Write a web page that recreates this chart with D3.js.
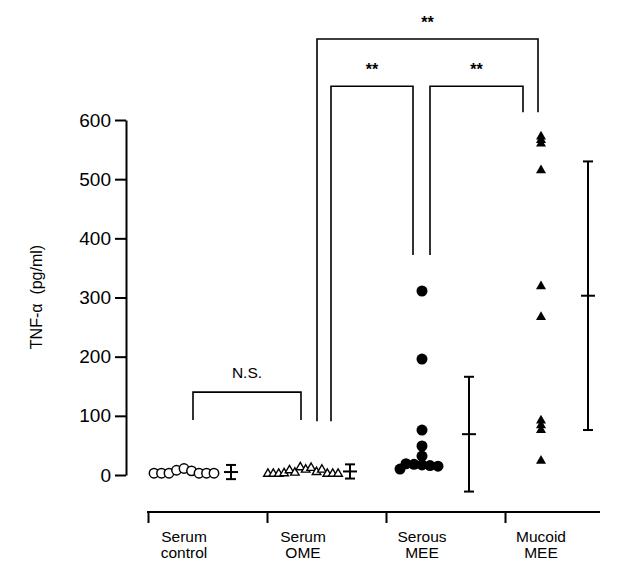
<!DOCTYPE html>
<html>
<head>
<meta charset="utf-8">
<script src="https://cdn.jsdelivr.net/npm/d3@7"></script>
<style>
  body { margin: 0; background: #fff; }
  svg { font-family: 'Liberation Sans', Arial, sans-serif; }
  .axis path, .axis line { stroke: #000; stroke-width: 2; }
  .axis text { fill: #000; }
  .bracket { fill: none; stroke: #000; stroke-width: 1.6; }
  .errbar { stroke: #000; stroke-width: 2; }
</style>
</head>
<body>
<svg class="chart" width="624" height="568"></svg>
<script>
const groups = ['Serum control', 'Serum OME', 'Serous MEE', 'Mucoid MEE'];
const groupLabels = [['Serum', 'control'], ['Serum', 'OME'], ['Serous', 'MEE'], ['Mucoid', 'MEE']];
const yTicks = [0, 100, 200, 300, 400, 500, 600];

// individual values, left to right as they appear
const controlValues = [3, 3, 3, 8, 11, 7, 3, 3, 3];
const omeValues = [2, 2, 2, 3, 8, 4, 13, 9, 12, 5, 9, 2, 2, 2];
const serousValues = [311, 196, 76, 49, 32, 17, 16, 18, 15, 19, 10];
const mucoidValues = [572, 566, 560, 515, 319, 267, 92, 84, 76, 24];

const groupMeans = [5, 6, 69, 303];
const groupSDs = [12, 12, 97, 227];

const comparisons = [
  { from: 0, to: 1, label: 'N.S.' },
  { from: 1, to: 2, label: '**' },
  { from: 2, to: 3, label: '**' },
  { from: 1, to: 3, label: '**' },
];

const svg = d3.select('.chart');
const yScale = d3.scaleLinear().domain([0, 600]).range([475, 120]);
const xScale = d3.scalePoint().domain(groups).range([148, 505]);
const dotOffset = 36;
const barOffset = 83;

const trianglePath = (side) => {
  const h = side * Math.sqrt(3) / 2;
  return `M0,${-h * 2 / 3}L${side / 2},${h / 3}L${-side / 2},${h / 3}Z`;
};

// simple beeswarm in array order
const swarm = (values, cx, minDist) => {
  const placed = [];
  values.forEach((v) => {
    const y = yScale(v);
    let x = cx;
    for (let k = 0; k < 400; k += 1) {
      const off = k === 0 ? 0 : (k % 2 ? 1 : -1) * Math.ceil(k / 2) * 0.5;
      if (placed.every(p => Math.hypot(p.x - (cx + off), p.y - y) >= minDist)) {
        x = cx + off;
        break;
      }
    }
    placed.push({ x, y, v });
  });
  return placed;
};

const row = (values, cx, step) => values.map((v, i) => ({
  x: cx + (i - (values.length - 1) / 2) * step,
  y: yScale(v),
  v,
}));

// y axis
const yAxis = d3.axisLeft(yScale).tickValues(yTicks).tickSize(11).tickSizeOuter(0).tickPadding(4);
svg.append('g')
  .attr('class', 'axis')
  .attr('transform', 'translate(126, 0)')
  .call(yAxis)
  .call(g => g.selectAll('text').attr('font-size', 19).attr('font-family', 'Liberation Sans, Arial, sans-serif'));

svg.append('text')
  .attr('transform', 'translate(42, 297) rotate(-90)')
  .attr('text-anchor', 'middle')
  .attr('font-size', 16)
  .style('white-space', 'pre')
  .text('TNF-α  (pg/ml)');

// bottom category axis
const xAxis = d3.axisBottom(xScale).tickSize(11).tickSizeOuter(0).tickFormat('');
const xg = svg.append('g')
  .attr('class', 'axis')
  .attr('transform', 'translate(0, 512)')
  .call(xAxis);
xg.select('.domain').remove();
xg.append('line')
  .attr('x1', xScale(groups[0]) - 1)
  .attr('x2', 600)
  .attr('stroke', '#000')
  .attr('stroke-width', 2);

groups.forEach((g, i) => {
  groupLabels[i].forEach((line, j) => {
    svg.append('text')
      .attr('text-anchor', 'middle')
      .attr('font-size', 15.5)
      .attr('x', xScale(g) + dotOffset)
      .attr('y', 542 + j * 16)
      .text(line);
  });
});

// points
const controlPts = row(controlValues, xScale(groups[0]) + dotOffset, 7.5);
svg.append('g').selectAll('circle')
  .data(controlPts)
  .enter()
  .append('circle')
  .attr('cx', d => d.x)
  .attr('cy', d => d.y)
  .attr('r', 4.7)
  .attr('fill', '#fff')
  .attr('stroke', '#000')
  .attr('stroke-width', 1.5);

const omePts = row(omeValues, xScale(groups[1]) + dotOffset, 5.4);
svg.append('g').selectAll('path')
  .data(omePts)
  .enter()
  .append('path')
  .attr('d', trianglePath(8.5))
  .attr('transform', d => `translate(${d.x}, ${d.y})`)
  .attr('fill', '#fff')
  .attr('stroke', '#000')
  .attr('stroke-width', 1.4);

const serousPts = swarm(serousValues, xScale(groups[2]) + dotOffset, 8);
svg.append('g').selectAll('circle')
  .data(serousPts)
  .enter()
  .append('circle')
  .attr('cx', d => d.x)
  .attr('cy', d => d.y)
  .attr('r', 5.5)
  .attr('fill', '#000');

const mucoidPts = swarm(mucoidValues, xScale(groups[3]) + dotOffset, 3);
svg.append('g').selectAll('path')
  .data(mucoidPts)
  .enter()
  .append('path')
  .attr('d', trianglePath(10))
  .attr('transform', d => `translate(${d.x}, ${d.y})`)
  .attr('fill', '#000');

// mean +/- SD bars
const bars = svg.append('g').selectAll('g')
  .data(groups.map((g, i) => ({ g, mean: groupMeans[i], sd: groupSDs[i] })))
  .enter()
  .append('g')
  .attr('class', 'errbar')
  .attr('transform', d => `translate(${xScale(d.g) + barOffset}, 0)`);
bars.append('line')
  .attr('y1', d => yScale(d.mean + d.sd))
  .attr('y2', d => yScale(d.mean - d.sd));
bars.append('line')
  .attr('x1', -5).attr('x2', 5)
  .attr('y1', d => yScale(d.mean + d.sd))
  .attr('y2', d => yScale(d.mean + d.sd));
bars.append('line')
  .attr('x1', -5).attr('x2', 5)
  .attr('y1', d => yScale(d.mean - d.sd))
  .attr('y2', d => yScale(d.mean - d.sd));
bars.append('line')
  .attr('x1', -7).attr('x2', 7)
  .attr('y1', d => yScale(d.mean))
  .attr('y2', d => yScale(d.mean));

// significance brackets: x offsets from group ticks, levels in pg/ml
const bracketLayout = [
  { left: 45, right: 34, top: 140, leftEnd: 93, rightEnd: 93 },
  { left: 64, right: 27, top: 657, leftEnd: 91, rightEnd: 372 },
  { left: 44, right: 18, top: 657, leftEnd: 372, rightEnd: 613 },
  { left: 50, right: 33, top: 737, leftEnd: 91, rightEnd: 613 },
];

comparisons.forEach((c, i) => {
  const b = bracketLayout[i];
  const x1 = xScale(groups[c.from]) + b.left;
  const x2 = xScale(groups[c.to]) + b.right;
  const yTop = yScale(b.top);
  svg.append('path')
    .attr('class', 'bracket')
    .attr('d', `M${x1},${yScale(b.leftEnd)}V${yTop}H${x2}V${yScale(b.rightEnd)}`);
  svg.append('text')
    .attr('x', (x1 + x2) / 2)
    .attr('y', yTop - (c.label === '**' ? 11 : 14))
    .attr('text-anchor', 'middle')
    .attr('font-size', c.label === '**' ? 16 : 15.5)
    .attr('font-weight', c.label === '**' ? 'bold' : 'normal')
    .text(c.label);
});
</script>
</body>
</html>
